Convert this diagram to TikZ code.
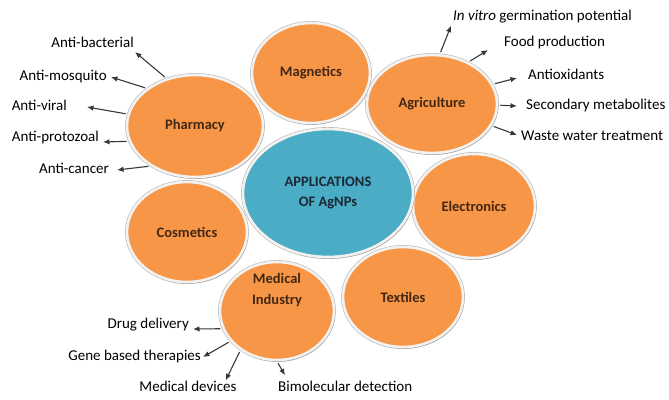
\documentclass[tikz,border=0pt]{standalone}
\usepackage{fontspec}
\setmainfont{Carlito}
\usepackage{xcolor}
\usepackage{tikz}
\usetikzlibrary{arrows.meta,shapes.geometric,shadows}
\definecolor{agorange}{RGB}{247,150,70}
\definecolor{agblue}{RGB}{75,172,198}
\definecolor{agbrown}{RGB}{66,40,20}
\definecolor{agnavy}{RGB}{28,40,52}
\definecolor{agrim}{RGB}{244,242,240}
\tikzset{
  ag/.style={x=1pt, y=1pt, font=\fontsize{15}{17}\selectfont},
  ag txt/.style={text=agbrown, align=center, font=\fontsize{14.5}{21}\selectfont\bfseries},
  ag circ/.style={ag txt, ellipse, draw=agrim, line width=2.6pt, fill=agorange, inner sep=0pt,
                  preaction={draw=black!28, line width=3.8pt},
                  drop shadow={shadow xshift=1.2pt, shadow yshift=-1.8pt, opacity=0.45, fill=black!50}},
  ag hub/.style={ag circ, fill=agblue, text=agnavy, font=\fontsize{14.5}{20}\selectfont\bfseries},
  ag lab/.style={inner sep=1pt, text=black, text height=10pt, text depth=3pt},
  ag arr/.style={-{Latex[length=6.5pt, width=5.5pt]}, line width=1.1pt, black!78, shorten <=2pt},
}

\begin{document}
\begin{tikzpicture}[ag]
\useasboundingbox (0,0) rectangle (669,-399);
% ---- application areas ----
\node[ag circ, minimum width=136, minimum height=102] (ph)  at (195,-126) {Pharmacy};
\node[ag circ, minimum width=118, minimum height=100] (mag) at (311,-73)  {Magnetics};
\node[ag circ, minimum width=130, minimum height=98]  (agr) at (432,-104) {Agriculture};
\node[ag circ, minimum width=122, minimum height=104] (ele) at (474,-206) {Electronics};
\node[ag circ, minimum width=120, minimum height=100] (cos) at (187,-232) {Cosmetics};
\node[ag circ, minimum width=120, minimum height=100] (tex) at (403,-297) {Textiles};
\node[ag circ, minimum width=114, minimum height=98,
      label={[ag txt, name=medtxt, yshift=21pt]center:{Medical\\Industry}}] (med) at (277,-311) {};
\node[ag hub,  minimum width=170, minimum height=128] (hub) at (328,-193) {APPLICATIONS\\OF AgNPs};
% ---- pharmacy ----
\node[ag lab, anchor=east] (antibac)  at (135,-44)  {Anti-bacterial};
\node[ag lab, anchor=east] (antimos)  at (108,-77)  {Anti-mosquito};
\node[ag lab, anchor=east] (antivir)  at (68,-107)  {Anti-viral};
\node[ag lab, anchor=east] (antipro)  at (100,-138) {Anti-protozoal};
\node[ag lab, anchor=east] (anticanc) at (110,-170) {Anti-cancer};
\draw[ag arr] (ph.121)  -- ([yshift=-8pt]antibac.east);
\draw[ag arr] (ph.142)  -- ([xshift=3pt]antimos.east);
\draw[ag arr] (ph.170)  -- ([xshift=19pt]antivir.east);
\draw[ag arr] (ph.-167) -- ([xshift=3pt, yshift=-4pt]antipro.east);
\draw[ag arr] (ph.-138) -- ([xshift=7pt]anticanc.east);
% ---- agriculture ----
\node[ag lab, anchor=west] (vitro)  at (452,-17)  {\textit{In vitro} germination potential};
\node[ag lab, anchor=west] (food)   at (503,-43)  {Food production};
\node[ag lab, anchor=west] (antiox) at (527,-76)  {Antioxidants};
\node[ag lab, anchor=west] (second) at (525,-106) {Secondary metabolites};
\node[ag lab, anchor=west] (waste)  at (520,-137) {Waste water treatment};
\draw[ag arr] (agr.81)  -- ([xshift=-1pt, yshift=-1pt]vitro.south west);
\draw[ag arr] (agr.49)  -- ([xshift=-15pt, yshift=-7pt]food.west);
\draw[ag arr] (agr.18)  -- ([xshift=-10pt, yshift=-2pt]antiox.west);
\draw[ag arr] (agr.-1)  -- ([xshift=-8pt]second.west);
\draw[ag arr] (agr.-20) -- ([xshift=-3pt, yshift=2pt]waste.west);
% ---- medical industry ----
\node[ag lab, anchor=east] (drug)    at (190,-325) {Drug delivery};
\node[ag lab, anchor=east] (gene)    at (202,-357) {Gene based therapies};
\node[ag lab]              (devices) at (188,-388) {Medical devices};
\node[ag lab, anchor=west] (bimol)   at (277,-388) {Bimolecular detection};
\draw[ag arr] (med.-162) -- ([xshift=3pt, yshift=-4pt]drug.east);
\draw[ag arr] (med.-147) -- ([xshift=1pt]gene.east);
\draw[ag arr] (med.-133) -- ([xshift=-12pt]devices.north east);
\draw[ag arr] (med.-90)  -- ([xshift=8pt, yshift=5pt]bimol.north west);
\end{tikzpicture}
\end{document}
